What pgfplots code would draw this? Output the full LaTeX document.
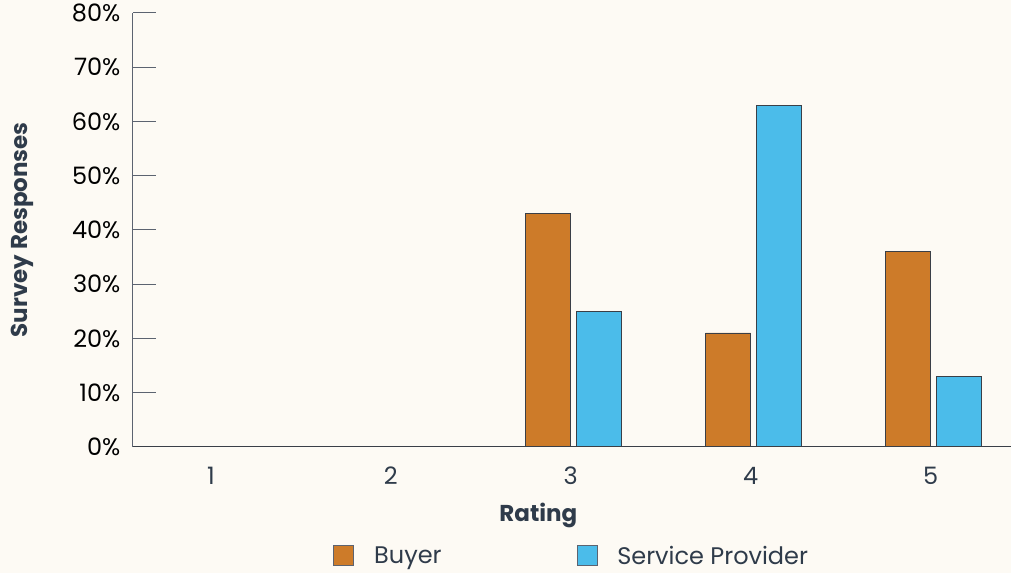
\documentclass[border=0pt]{standalone}
\usepackage{pgfplots}
\pgfplotsset{compat=1.18}
\usepackage{fontspec}
\setmainfont{Poppins}
\definecolor{bg}{HTML}{FDFAF4}
\definecolor{buyer}{HTML}{CD7B29}
\definecolor{prov}{HTML}{4BBCEA}
\definecolor{edge}{HTML}{3A3F47}
\definecolor{axisc}{HTML}{5C6370}
\definecolor{lab}{HTML}{2F3B4A}
\newcommand{\tf}{\fontsize{24}{28}\selectfont}
\newcommand{\lf}{\fontsize{23}{27}\selectfont\bfseries}
\begin{document}
\begin{tikzpicture}
\fill[bg] (-133pt,-126pt) rectangle (878pt,447pt);
\begin{axis}[
  at={(0,0)}, anchor=south west,
  scale only axis, width=878pt, height=434pt,
  xmin=0.567, xmax=5.444, ymin=0, ymax=80,
  enlargelimits=false,
  axis x line=bottom, axis y line=left,
  axis line style={-, draw=axisc, line width=1pt},
  x axis line style={draw=edge},
  xtick={1,2,3,4,5},
  xticklabels={1,2,3,4,5},
  major x tick style={draw=none},
  ytick={0,10,20,30,40,50,60,70,80},
  yticklabels={0\%,10\%,20\%,30\%,40\%,50\%,60\%,70\%,80\%},
  tick align=inside, major tick length=23pt,
  major y tick style={draw=axisc, line width=1pt},
  yticklabel style={font=\tf, text=black, xshift=-9pt},
  xticklabel style={font=\tf, text=lab, yshift=6pt},
  xlabel={Rating}, ylabel={Survey Responses},
  xlabel style={font=\lf, text=lab, at={(axis description cs:0.462,0)}, anchor=center, yshift=-69pt},
  ylabel style={font=\lf, text=lab, at={(axis description cs:0,0.5)}, anchor=center, yshift=111pt},
  ybar, bar width=0.25,
  legend columns=2,
  legend style={draw=none, fill=none, at={(axis description cs:0.5,0)}, yshift=-109pt, anchor=center,
    font=\tf, text=lab,
    /tikz/every odd column/.append style={column sep=18pt},
    /tikz/every even column/.append style={column sep=133pt}},
  legend image code/.code={\draw[#1, draw=axisc] (0pt,-10pt) rectangle (20pt,10pt);},
]
\addplot[fill=buyer, draw=edge, line width=0.8pt, bar shift=-0.125] coordinates {(1,0) (2,0) (3,43) (4,21) (5,36)};
\addplot[fill=prov, draw=edge, line width=0.8pt, bar shift=0.155] coordinates {(1,0) (2,0) (3,25) (4,63) (5,13)};
\legend{Buyer, Service Provider}
\end{axis}
\end{tikzpicture}
\end{document}
